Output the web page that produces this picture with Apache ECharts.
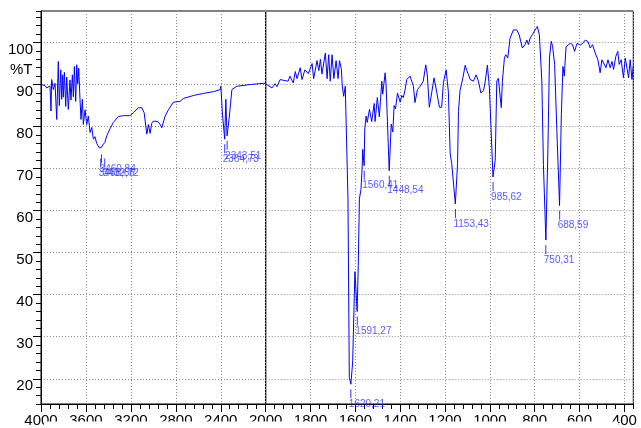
<!DOCTYPE html>
<html>
<head>
<meta charset="utf-8">
<title>IR spectrum</title>
<script src="https://cdn.jsdelivr.net/npm/echarts@6/dist/echarts.min.js"></script>
<style>
  html, body { margin: 0; padding: 0; background: #fff; }
  #main { width: 641px; height: 428px; }
</style>
</head>
<body>
<div id="main"></div>
<script>
// [wavenumber cm-1, %T], 4000-2000 part (compressed scale)
const spectrumHigh = [
  [4000, 90.0], [3964, 89.8], [3949, 89.2], [3935, 88.8], [3920, 89.7], [3911, 83.7], [3905, 91.2],
  [3890, 88.8], [3875, 90.3], [3860, 81.7], [3846, 95.5], [3837, 85.0], [3824, 93.5], [3816, 86.5],
  [3807, 92.3], [3801, 87.0], [3792, 92.9], [3780, 84.8], [3771, 91.8], [3757, 84.1], [3742, 91.1],
  [3733, 86.3], [3721, 92.3], [3712, 87.1], [3703, 94.3], [3691, 86.0], [3682, 94.7], [3673, 90.2],
  [3664, 93.9], [3653, 86.5], [3644, 81.7], [3632, 86.5], [3623, 80.5], [3608, 84.0], [3593, 80.5],
  [3579, 82.5], [3563, 78.6], [3548, 79.8], [3534, 77.0], [3520, 77.6], [3504, 76.0], [3490, 76.2],
  [3480, 74.9], [3468, 74.6], [3460, 75.1], [3452, 75.6], [3440, 75.2], [3432, 76.2], [3415, 77.8],
  [3385, 79.5], [3356, 81.0], [3311, 82.4], [3267, 82.6], [3207, 82.6], [3178, 83.3], [3133, 84.5],
  [3103, 84.5], [3082, 83.3], [3058, 78.2], [3044, 80.5], [3029, 78.4], [3014, 80.8], [3000, 81.3],
  [2960, 81.2], [2940, 80.5], [2925, 79.7], [2895, 82.5], [2866, 84.0], [2821, 85.8], [2762, 86.0],
  [2732, 86.7], [2643, 87.4], [2554, 87.9], [2465, 88.3], [2405, 88.8], [2399, 89.6], [2385, 83.0],
  [2365, 77.0], [2355, 86.5], [2344, 77.8], [2325, 82.0], [2301, 88.8], [2257, 89.6], [2138, 90.0],
  [2020, 90.3], [2000, 90.2]
]

// 2000-360 part (expanded scale)
const spectrumLow = [
  [2000, 90.2], [1990, 89.8], [1972, 89.2], [1958, 90.2], [1950, 89.5], [1935, 91.2], [1921, 91.0],
  [1914, 91.4], [1900, 90.8], [1892, 92.0], [1877, 90.4], [1868, 93.1], [1860, 91.4], [1846, 94.0],
  [1838, 91.2], [1825, 93.5], [1810, 92.6], [1793, 95.0], [1786, 91.4], [1771, 95.7], [1763, 93.3],
  [1756, 96.0], [1749, 92.5], [1734, 97.5], [1726, 91.4], [1719, 97.1], [1712, 90.8], [1704, 97.1],
  [1696, 91.4], [1686, 95.7], [1677, 91.4], [1671, 95.7], [1662, 93.6], [1659, 90.0], [1652, 87.2],
  [1645, 89.6], [1633, 63.0], [1627, 20.3], [1620, 18.7], [1612, 24.0], [1602, 45.5], [1592, 36.0],
  [1587, 47.0], [1582, 62.8], [1575, 65.0], [1570, 69.9], [1567, 74.6], [1561, 70.7], [1558, 79.4],
  [1552, 82.5], [1547, 81.0], [1537, 84.1], [1534, 83.7], [1527, 81.2], [1516, 85.5], [1512, 81.2],
  [1502, 86.9], [1493, 82.3], [1482, 90.8], [1478, 87.7], [1467, 92.8], [1463, 90.0], [1449, 69.5],
  [1440, 80.6], [1433, 78.7], [1427, 85.0], [1421, 84.2], [1412, 88.0], [1400, 85.8], [1393, 87.4],
  [1386, 86.9], [1378, 88.8], [1371, 91.2], [1363, 90.8], [1356, 92.0], [1349, 91.6], [1341, 89.6],
  [1334, 85.7], [1323, 88.8], [1311, 89.6], [1297, 90.8], [1286, 94.7], [1279, 92.3], [1270, 84.6],
  [1259, 88.2], [1249, 91.6], [1237, 88.2], [1225, 84.6], [1215, 84.6], [1207, 90.5], [1195, 93.5],
  [1185, 88.2], [1177, 73.5], [1170, 71.2], [1154, 61.6], [1144, 71.2], [1140, 83.6], [1133, 88.6],
  [1121, 91.4], [1110, 94.6], [1103, 93.4], [1095, 92.3], [1088, 91.2], [1080, 91.6], [1073, 90.8],
  [1061, 92.3], [1051, 90.8], [1040, 88.0], [1028, 88.6], [1021, 90.6], [1011, 94.6], [1002, 89.2],
  [986, 68.0], [976, 72.0], [969, 90.8], [962, 91.5], [949, 84.5], [944, 90.8], [935, 96.3],
  [929, 97.1], [920, 96.3], [910, 101.0], [895, 103.0], [880, 103.0], [869, 101.8], [855, 98.7],
  [843, 99.5], [835, 100.6], [828, 99.5], [820, 101.1], [810, 101.9], [798, 103.0], [788, 103.8],
  [779, 101.8], [768, 90.8], [761, 71.0], [750, 53.0], [741, 74.5], [734, 96.3], [726, 100.3],
  [720, 99.1], [711, 94.8], [701, 79.0], [689, 61.2], [681, 82.9], [674, 94.3], [668, 92.0],
  [660, 99.0], [651, 99.4], [641, 99.8], [631, 99.5], [622, 97.9], [611, 99.8], [597, 99.4],
  [586, 99.8], [574, 100.6], [562, 100.2], [552, 98.7], [542, 99.5], [530, 97.5], [518, 95.9],
  [508, 92.8], [500, 95.9], [493, 95.5], [482, 94.0], [473, 95.9], [463, 94.0], [455, 95.5],
  [448, 93.6], [438, 96.7], [429, 97.9], [423, 94.8], [414, 95.9], [404, 91.6], [396, 96.3],
  [388, 93.9], [381, 91.6], [374, 95.9], [366, 91.2], [360, 94.5]
]

// picked peaks [wavenumber, %T]
const peaksHigh = [[3468.65, 73.6], [3460.84, 74.6], [3432.72, 73.6], [2364.73, 77.0], [2343.51, 77.8]]
const peaksLow = [
  [1620.21, 18.7], [1591.27, 36.0], [1560.41, 70.7], [1448.54, 69.5],
  [1153.43, 61.6], [985.62, 68.0], [750.31, 53.0], [688.59, 61.2]
]

const yMin = 14
const yMax = 107.5
const font = 'Liberation Sans, Arial, sans-serif'
const grid = { color: '#8c8c8c', type: [1, 2], width: 1 }

const myChart = echarts.init(document.getElementById('main'))

const peakSeries = (data, xi, yi) => ({
  type: 'scatter',
  xAxisIndex: xi,
  yAxisIndex: yi,
  data: data,
  symbol: 'rect',
  symbolSize: [1, 9],
  symbolOffset: [0, 9.5],
  itemStyle: { color: '#0000ff' },
  label: {
    show: true,
    position: [-1.5, 10],
    fontSize: 10,
    fontFamily: font,
    color: '#3030ff',
    formatter: p => p.value[0].toFixed(2).replace('.', ','),
  },
  z: 5,
})

const xLabel = {
  showMinLabel: false, margin: 9, fontSize: 15, color: '#000', fontFamily: font,
  formatter: v => String(v),
}

myChart.setOption({
  animation: false,
  grid: [
    { left: 41, top: 11, bottom: 22.3, width: 224.7, show: true, borderColor: '#000', borderWidth: 1 },
    { left: 265.7, top: 11, bottom: 22.3, right: 7.7, show: true, borderColor: '#000', borderWidth: 1 },
  ],
  xAxis: [
    {
      type: 'value', gridIndex: 0, inverse: true, min: 2000, max: 4000, interval: 400,
      axisLine: { show: true, lineStyle: { color: '#000' } },
      axisTick: { length: 8, lineStyle: { color: '#000' } },
      minorTick: { show: true, splitNumber: 5, length: 5, lineStyle: { color: '#000' } },
      axisLabel: xLabel,
      splitLine: { show: true, lineStyle: grid },
    },
    {
      type: 'value', gridIndex: 1, inverse: true, min: 360, max: 2000, splitNumber: 8,
      axisLine: { show: true, lineStyle: { color: '#000' } },
      axisTick: { length: 8, lineStyle: { color: '#000' } },
      axisLabel: xLabel,
      splitLine: { show: true, lineStyle: grid },
    },
    {
      // minor ticks of the right part
      type: 'value', gridIndex: 1, inverse: true, min: 360, max: 2000, interval: 40, position: 'bottom',
      axisLine: { show: false },
      axisTick: { length: 5, lineStyle: { color: '#000' } },
      axisLabel: { show: false },
      splitLine: { show: false },
    },
  ],
  yAxis: [
    {
      type: 'value', gridIndex: 0, min: yMin, max: yMax, splitNumber: 9,
      axisLine: { show: true, lineStyle: { color: '#000' } },
      axisTick: { length: 8, lineStyle: { color: '#000' } },
      axisLabel: {
        showMinLabel: false, showMaxLabel: false, margin: 8, verticalAlign: 'top',
        fontSize: 15, color: '#000', fontFamily: font,
      },
      splitLine: { show: true, lineStyle: grid },
    },
    {
      // minor ticks every 2 %T
      type: 'value', gridIndex: 0, min: yMin, max: yMax, interval: 2, position: 'left',
      axisLine: { show: false },
      axisTick: { length: 5, lineStyle: { color: '#000' } },
      axisLabel: { show: false },
      splitLine: { show: false },
    },
    {
      type: 'value', gridIndex: 1, min: yMin, max: yMax, splitNumber: 9,
      axisLine: { show: false },
      axisTick: { show: false },
      axisLabel: { show: false },
      splitLine: { show: true, lineStyle: grid },
    },
  ],
  graphic: [
    { type: 'text', left: 10, top: 62, style: { text: '%T', font: '15px ' + font, fill: '#000' } },
    // the picture is cut below the tick labels
    { type: 'rect', left: 44, top: 421.5, z: 100, shape: { width: 574, height: 8 }, style: { fill: '#fff' } },
  ],
  series: [
    {
      type: 'line', xAxisIndex: 0, yAxisIndex: 0, data: spectrumHigh, showSymbol: false,
      lineStyle: { color: '#0000ff', width: 1 }, itemStyle: { color: '#0000ff' },
    },
    {
      type: 'line', xAxisIndex: 1, yAxisIndex: 2, data: spectrumLow, showSymbol: false,
      lineStyle: { color: '#0000ff', width: 1 }, itemStyle: { color: '#0000ff' },
    },
    peakSeries(peaksHigh, 0, 0),
    peakSeries(peaksLow, 1, 2),
  ],
})
</script>
</body>
</html>
